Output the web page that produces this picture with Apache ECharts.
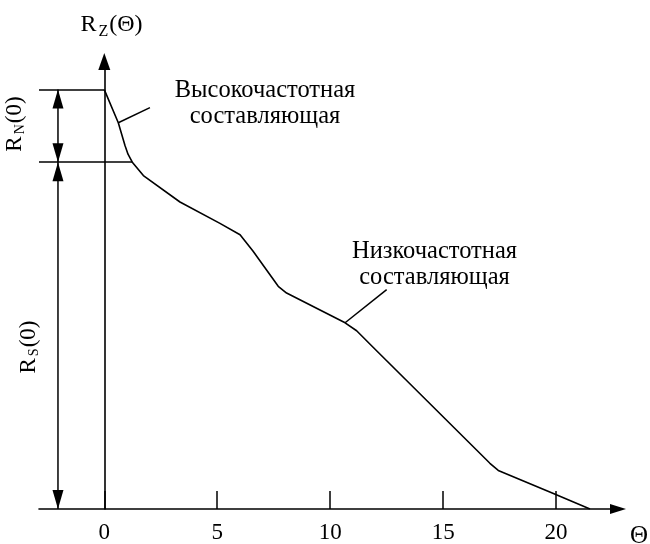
<!DOCTYPE html>
<html><head><meta charset="utf-8">
<script src="https://cdn.jsdelivr.net/npm/echarts@6/dist/echarts.min.js"></script>
<style>html,body{margin:0;padding:0;background:#fff}#c{width:650px;height:544px}</style>
</head><body><div id="c"></div>
<script>
// ---- data ----
const thetaTicks = [0, 5, 10, 15, 20];
const curveTheta = [0, 0.62, 0.92, 1.05, 1.24, 1.73, 3.35, 5.12, 6.01, 6.58, 7.70, 8.07, 10.66, 11.17, 11.91, 17.07, 17.44, 19.88, 21.5];
const curveR     = [100, 92.1, 86.6, 84.6, 82.7, 79.5, 73.2, 68.1, 65.4, 61.5, 53.1, 51.5, 44.4, 42.5, 38.5, 10.9, 9.2, 3.7, 0];
const rZ0 = 100;          // R_Z(0) = R_N(0) + R_S(0)
const rS0 = 82.7;         // R_S(0)
const rS0CurveTheta = 1.24;
const dimTheta = -2.05;   // position of dimension arrows
const hfLeader = [[0.62, 92.1], [2.02, 95.7]];
const lfLeader = [[10.66, 44.4], [12.50, 52.3]];
const thetaMin = -2.89, thetaMax = 22.74, rMax = 106.7;
const hfText = 'Высокочастотная\nсоставляющая';
const lfText = 'Низкочастотная\nсоставляющая';

const serif = "'Liberation Serif', 'Times New Roman', serif";
const chart = echarts.init(document.getElementById('c'), null, {renderer: 'canvas'});

const curveData = curveTheta.map((t, i) => [t, curveR[i]]);
const segments = [
  {coords: hfLeader},
  {coords: lfLeader},
  {coords: [[thetaMin, rZ0], [0, rZ0]]},
  {coords: [[thetaMin, rS0], [rS0CurveTheta, rS0]]}
];
const dims = [[dimTheta, rZ0, rS0], [dimTheta, rS0, 0]];

function subLabel(main, sub, tail, fs, sfs, lh) {
  return {
    text: '{r|' + main + '}{s|' + sub + '}{r|' + tail + '}',
    rich: {
      r: {fontSize: fs, fontFamily: serif, color: '#000', lineHeight: lh},
      s: {fontSize: sfs, fontFamily: serif, color: '#000', lineHeight: sfs, verticalAlign: 'bottom', padding: [0, 1, 0, 2]}
    },
    align: 'center', verticalAlign: 'middle'
  };
}

chart.setOption({
  animation: false,
  backgroundColor: '#fff',
  grid: {left: 39, right: 32, top: 61.5, bottom: 31},
  xAxis: {
    type: 'value', min: thetaMin, max: thetaMax,
    splitLine: {show: false},
    axisLine: {onZero: false, symbol: ['none', 'triangle'], symbolSize: [10, 16], lineStyle: {color: '#000', width: 1.6}},
    axisTick: {show: true, inside: true, length: 18, customValues: thetaTicks, lineStyle: {color: '#000', width: 1.5}},
    axisLabel: {customValues: thetaTicks, margin: 12, color: '#000', fontSize: 23, fontFamily: serif}
  },
  yAxis: {
    type: 'value', min: 0, max: rMax,
    splitLine: {show: false}, axisTick: {show: false}, axisLabel: {show: false},
    axisLine: {onZero: true, symbol: ['none', 'triangle'], symbolSize: [12, 17], lineStyle: {color: '#000', width: 1.6}}
  },
  series: [
    {type: 'line', data: curveData, symbol: 'none', lineStyle: {color: '#000', width: 1.6}, silent: true},
    {type: 'lines', coordinateSystem: 'cartesian2d', data: segments, lineStyle: {color: '#000', width: 1.5, opacity: 1}, silent: true},
    {
      type: 'custom', data: dims, encode: {x: 0, y: [1, 2]}, clip: false, silent: true,
      renderItem: function (params, api) {
        const a = api.coord([api.value(0), api.value(1)]);
        const b = api.coord([api.value(0), api.value(2)]);
        const L = 19, W = 5.5;
        const dir = b[1] > a[1] ? 1 : -1;
        return {type: 'group', children: [
          {type: 'line', shape: {x1: a[0], y1: a[1], x2: b[0], y2: b[1]}, style: {stroke: '#000', lineWidth: 1.5}},
          {type: 'polygon', shape: {points: [[a[0], a[1]], [a[0] - W, a[1] + dir * L], [a[0] + W, a[1] + dir * L]]}, style: {fill: '#000'}},
          {type: 'polygon', shape: {points: [[b[0], b[1]], [b[0] - W, b[1] - dir * L], [b[0] + W, b[1] - dir * L]]}, style: {fill: '#000'}}
        ]};
      }
    }
  ],
  graphic: [
    {type: 'text', x: 111.5, y: 25.2, style: subLabel('R', 'Z', '(Θ)', 24, 16, 30)},
    {type: 'text', x: 15.2, y: 124, rotation: Math.PI / 2, style: subLabel('R', 'N', '(0)', 23, 14, 24)},
    {type: 'text', x: 28.9, y: 347, rotation: Math.PI / 2, style: subLabel('R', 'S', '(0)', 23, 14, 24)},
    {type: 'text', x: 265, y: 104, style: {text: hfText, fontSize: 24.5, lineHeight: 26, fontFamily: serif, fill: '#000', align: 'center', verticalAlign: 'middle'}},
    {type: 'text', x: 434.5, y: 264.7, style: {text: lfText, fontSize: 24.5, lineHeight: 26, fontFamily: serif, fill: '#000', align: 'center', verticalAlign: 'middle'}},
    {type: 'text', x: 639, y: 536, style: {text: 'Θ', fontSize: 25, fontFamily: serif, fill: '#000', align: 'center', verticalAlign: 'middle'}}
  ]
});
</script>
</body></html>
